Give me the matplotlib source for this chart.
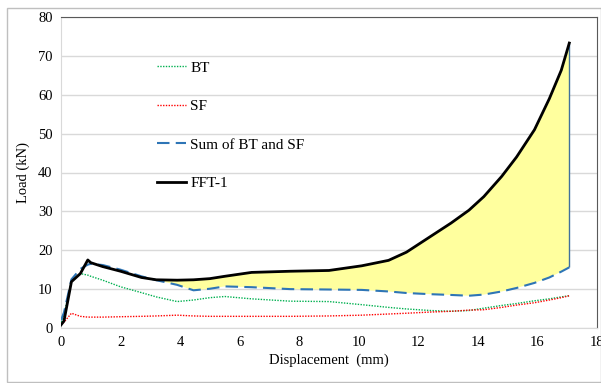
import matplotlib
matplotlib.use("Agg")
import matplotlib.pyplot as plt
from matplotlib.patches import Rectangle

plt.rcParams['font.family'] = ['Liberation Serif', 'DejaVu Serif']

# displacement (mm), shared by all series
disp = [0, 0.1, 0.35, 0.65, 0.9, 1.0, 1.4, 2.0, 2.7, 3.2, 3.9, 4.45, 5.0, 5.5, 6.4,
        7.7, 9.0, 10.1, 11.0, 11.6, 12.4, 13.1, 13.7, 14.2, 14.8, 15.3, 15.9, 16.4, 16.8, 17.07]

# load (kN)
fft1 = [0.8, 1.8, 11.9, 14.0, 17.5, 16.8, 15.8, 14.6, 13.0, 12.4, 12.3, 12.4, 12.7, 13.3, 14.3,
        14.6, 14.8, 16.0, 17.4, 19.5, 23.5, 27.0, 30.3, 33.8, 39.0, 44.0, 51.0, 59.0, 66.3, 73.3]
sum_bt_sf = [2.0, 4.0, 12.5, 15.2, 16.3, 16.5, 16.2, 15.0, 13.3, 12.3, 11.1, 9.7, 10.1, 10.7, 10.5,
             10.0, 9.9, 9.8, 9.4, 9.0, 8.7, 8.5, 8.3, 8.6, 9.4, 10.3, 11.6, 13.0, 14.5, 15.6]
bt = [1.5, 3.5, 12.0, 14.0, 13.6, 13.3, 12.3, 10.6, 9.1, 8.0, 6.8, 7.2, 7.8, 8.1, 7.5,
      6.9, 6.8, 6.0, 5.3, 4.9, 4.5, 4.3, 4.5, 5.1, 5.8, 6.3, 7.0, 7.5, 8.0, 8.3]
sf = [0.8, 1.5, 3.8, 3.0, 2.8, 2.8, 2.8, 2.9, 3.0, 3.1, 3.3, 3.1, 3.0, 3.0, 3.0,
      3.0, 3.1, 3.3, 3.6, 3.8, 4.1, 4.3, 4.6, 4.7, 5.3, 5.9, 6.5, 7.2, 7.8, 8.3]

fill_start = 9  # index where the shaded area begins

fig = plt.figure(figsize=(6.01, 3.83), dpi=100)
ax = fig.add_axes([61/601, 1 - 328/383, 536/601, 311/383])

# shaded area between sum and FFT-1
ax.fill_between(disp[fill_start:], sum_bt_sf[fill_start:], fft1[fill_start:],
                color='#ffff9e', edgecolor='none', zorder=1)
ax.vlines(disp[-1], sum_bt_sf[-1], fft1[-1], color='#41719c', lw=1, zorder=2)

ax.plot(disp, bt, color='#00b050', ls=(0, (1, 1)), lw=1, label='BT', zorder=3)
ax.plot(disp, sf, color='#ff0000', ls=(0, (1, 1)), lw=1, label='SF', zorder=3)
ax.plot(disp, sum_bt_sf, color='#2e75b6', ls=(0, (6, 3)), lw=1.5, label='Sum of BT and SF', zorder=4)
ax.plot(disp, fft1, color='black', lw=2.0, label='FFT-1', zorder=5)

ax.set_xlim(0, 18)
ax.set_ylim(0, 80)
ax.set_xticks(range(0, 19, 2))
ax.set_yticks(range(0, 81, 10))
ax.grid(axis='y', color='#d9d9d9', lw=1)
ax.set_axisbelow(True)
ax.tick_params(length=0, labelsize=10.5, pad=6)

ax.spines['top'].set_color('#595959')
ax.spines['right'].set_color('#595959')
ax.spines['left'].set_color('#d9d9d9')
ax.spines['bottom'].set_color('#d9d9d9')

ax.set_xlabel('Displacement  (mm)', fontsize=10.5, labelpad=3)
ax.set_ylabel('Load (kN)', fontsize=10.5, labelpad=6)

ax.legend(loc='upper left', bbox_to_anchor=(0.153, 0.903), frameon=False, fontsize=11,
          handlelength=1.9, handletextpad=0.3, labelspacing=1.62)

fig.add_artist(Rectangle((6.5/601, 1/383), 594/601, 374/383, transform=fig.transFigure,
                         fill=False, edgecolor='#bfbfbf', lw=1))

fig.savefig('out.png', dpi=100)
